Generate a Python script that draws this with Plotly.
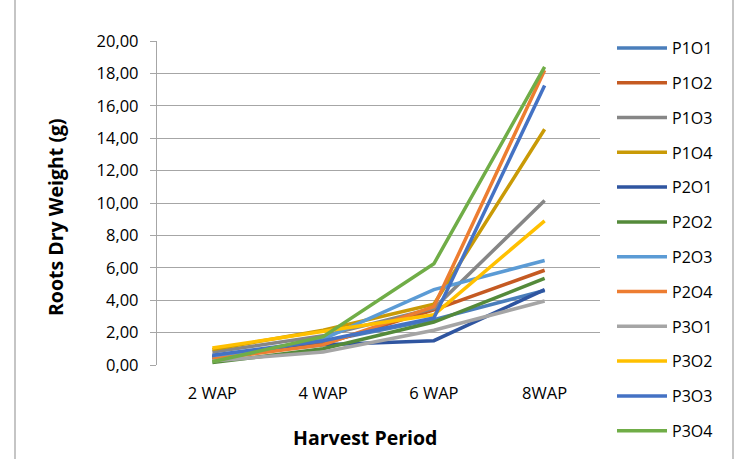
import plotly.graph_objects as go

categories = ["2 WAP", "4 WAP", "6 WAP", "8WAP"]
series_names = ["P1O1", "P1O2", "P1O3", "P1O4", "P2O1", "P2O2",
                "P2O3", "P2O4", "P3O1", "P3O2", "P3O3", "P3O4"]
P1O1 = [0.55, 1.45, 2.80, 4.60]
P1O2 = [0.45, 1.30, 3.40, 5.85]
P1O3 = [0.80, 1.80, 3.50, 10.15]
P1O4 = [0.95, 2.15, 3.75, 14.55]
P2O1 = [0.50, 1.25, 1.50, 4.65]
P2O2 = [0.15, 1.00, 2.65, 5.35]
P2O3 = [0.40, 1.60, 4.65, 6.45]
P2O4 = [0.35, 1.25, 3.60, 18.20]
P3O1 = [0.25, 0.80, 2.15, 3.95]
P3O2 = [1.05, 2.10, 3.10, 8.90]
P3O3 = [0.60, 1.50, 2.90, 17.25]
P3O4 = [0.20, 1.75, 6.25, 18.40]
series_values = [P1O1, P1O2, P1O3, P1O4, P2O1, P2O2,
                 P2O3, P2O4, P3O1, P3O2, P3O3, P3O4]
colors = ["#4A7EBB", "#C55A22", "#868686", "#C99A06", "#2F55A0", "#548A3A",
          "#5B9BD5", "#ED7D31", "#A5A5A5", "#FFC000", "#4472C4", "#70AD47"]
y_ticks = [0, 2, 4, 6, 8, 10, 12, 14, 16, 18, 20]

FONT = "Open Sans"
W, H = 740, 459
L, R, T, B = 157, 140, 41, 94

fig = go.Figure()
for name, vals, col in zip(series_names, series_values, colors):
    fig.add_trace(go.Scatter(
        x=categories, y=vals, mode="lines", name=name,
        legendgroup=name,
        line=dict(color=col, width=3.5),
    ))

pw = W - L - R
ph = H - T - B

def px_x(p):
    return (p - L) / pw

def px_y(p):
    return (H - B - p) / ph

fig.update_layout(
    width=W, height=H,
    margin=dict(l=L, r=R, t=T, b=B, autoexpand=False),
    paper_bgcolor="white", plot_bgcolor="white",
    separators=",.",
    font=dict(family=FONT, size=16, color="#000000"),
    xaxis=dict(
        type="category", range=[-0.5, 3.5],
        showgrid=False, showline=False, zeroline=False,
        ticks="", tickfont=dict(size=16.5, family=FONT, color="#000000"),
        ticklabelstandoff=16,
    ),
    yaxis=dict(
        range=[0, 20], tickvals=y_ticks, tickformat=".2f",
        showgrid=True, gridcolor="#A6A6A6", gridwidth=1.3,
        showline=True, linecolor="#A6A6A6", linewidth=1.3,
        zeroline=False,
        ticks="outside", ticklen=6, tickcolor="#A6A6A6", tickwidth=1.3,
        tickfont=dict(size=16.5, family=FONT, color="#000000"),
        ticklabelstandoff=8,
    ),
    legend=dict(
        xref="container", yref="container",
        x=612 / W, y=1 - 31 / H, xanchor="left", yanchor="top",
        font=dict(size=16, family=FONT, color="#000000"),
        tracegroupgap=11, itemwidth=50,
        maxheight=440,
        bgcolor="rgba(0,0,0,0)",
    ),
    annotations=[
        dict(text="<b>Harvest Period</b>", xref="paper", yref="paper",
             x=px_x(365), y=px_y(438), showarrow=False,
             font=dict(size=19.5, family=FONT, color="#000000"),
             xanchor="center", yanchor="middle"),
        dict(text="<b>Roots Dry Weight (g)</b>", xref="paper", yref="paper",
             x=px_x(55), y=px_y(217), showarrow=False, textangle=-90,
             font=dict(size=19.5, family=FONT, color="#000000"),
             xanchor="center", yanchor="middle"),
    ],
    shapes=[
        dict(type="line", xref="paper", yref="paper",
             x0=px_x(15), x1=px_x(15), y0=px_y(0), y1=px_y(H),
             line=dict(color="#A6A6A6", width=1.3)),
        dict(type="line", xref="paper", yref="paper",
             x0=px_x(733), x1=px_x(733), y0=px_y(0), y1=px_y(H),
             line=dict(color="#A6A6A6", width=1.3)),
    ],
    showlegend=True,
)

fig.write_html("out.html")
